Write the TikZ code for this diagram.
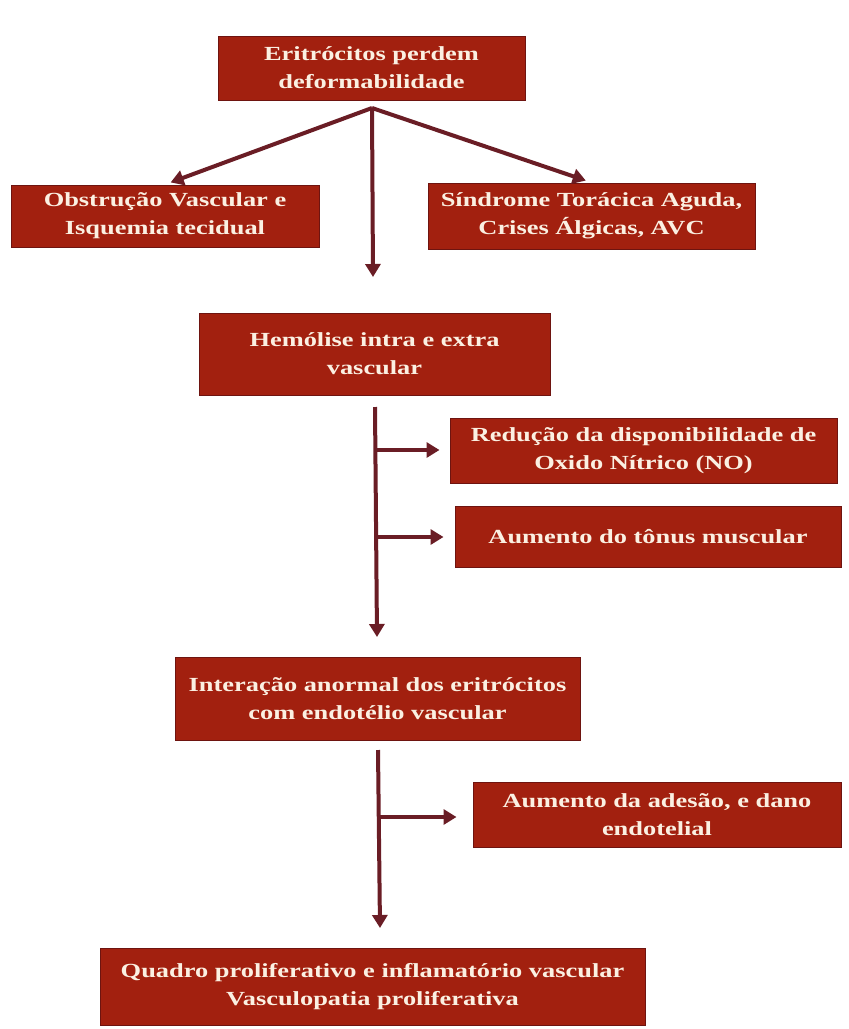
\documentclass[tikz,border=0pt]{standalone}
\usepackage{fontspec}
\setmainfont[FakeStretch=1.32]{Liberation Serif}
\usetikzlibrary{arrows.meta}
\definecolor{boxred}{HTML}{A2200F}
\definecolor{boxedge}{HTML}{6E1410}
\definecolor{arrcol}{HTML}{6A1D25}
\definecolor{txtcol}{HTML}{FBF0E2}
\tikzset{
  box/.style={rectangle, fill=boxred, draw=boxedge, line width=1pt, text=txtcol,
    font=\bfseries\fontsize{20}{28}\selectfont, align=center, inner sep=0pt},
  flow/.style={draw=arrcol, line width=4pt, -{Triangle[length=13pt,width=15pt]}},
  trunk/.style={draw=arrcol, line width=4pt}
}
\begin{document}
\begin{tikzpicture}[x=1pt,y=-1pt]
\useasboundingbox (0,0) rectangle (849,1029);
\fill[white] (0,0) rectangle (849,1029);
\node[box, minimum width=307, minimum height=64] (top) at (371.5,68) {Eritrócitos perdem\\deformabilidade};
\node[box, minimum width=308, minimum height=62] (left) at (165,216) {Obstrução Vascular e\\Isquemia tecidual};
\node[box, minimum width=327, minimum height=66] (right) at (591.5,216) {Síndrome Torácica Aguda,\\Crises Álgicas, AVC};
\node[box, minimum width=351, minimum height=82] (hem) at (374.5,354) {Hemólise intra e extra\\vascular};
\node[box, minimum width=387, minimum height=65] (red) at (643.5,450.5) {Redução da disponibilidade de\\Oxido Nítrico (NO)};
\node[box, minimum width=386, minimum height=61] (ton) at (648,536.5) {Aumento do tônus muscular};
\node[box, minimum width=405, minimum height=83] (inter) at (377.5,698.5) {Interação anormal dos eritrócitos\\com endotélio vascular};
\node[box, minimum width=368, minimum height=65] (ades) at (657,814.5) {Aumento da adesão, e dano\\endotelial};
\node[box, minimum width=545, minimum height=77] (fin) at (372.5,986.5) {Quadro proliferativo e inflamatório vascular\\Vasculopatia proliferativa};

\coordinate (o1) at (372,108);
\coordinate (e1) at (373,277);
\draw[flow, shorten >=6pt] (o1) -- (left.north);
\draw[flow, shorten >=6pt] (o1) -- (right.north);
\draw[flow] (o1) -- (e1);

\coordinate (o2) at (375,407);
\coordinate (e2) at (377,637);
\coordinate (b1) at (375,450);
\coordinate (b2) at (376,537);
\draw[flow] (o2) -- (e2);
\draw[flow, shorten >=10pt] (b1) -- (b1 -| red.west);
\draw[flow, shorten >=11pt] (b2) -- (b2 -| ton.west);

\coordinate (o3) at (378,750);
\coordinate (e3) at (380,928);
\coordinate (b3) at (379,817);
\draw[flow] (o3) -- (e3);
\draw[flow, shorten >=16pt] (b3) -- (b3 -| ades.west);
\end{tikzpicture}
\end{document}
